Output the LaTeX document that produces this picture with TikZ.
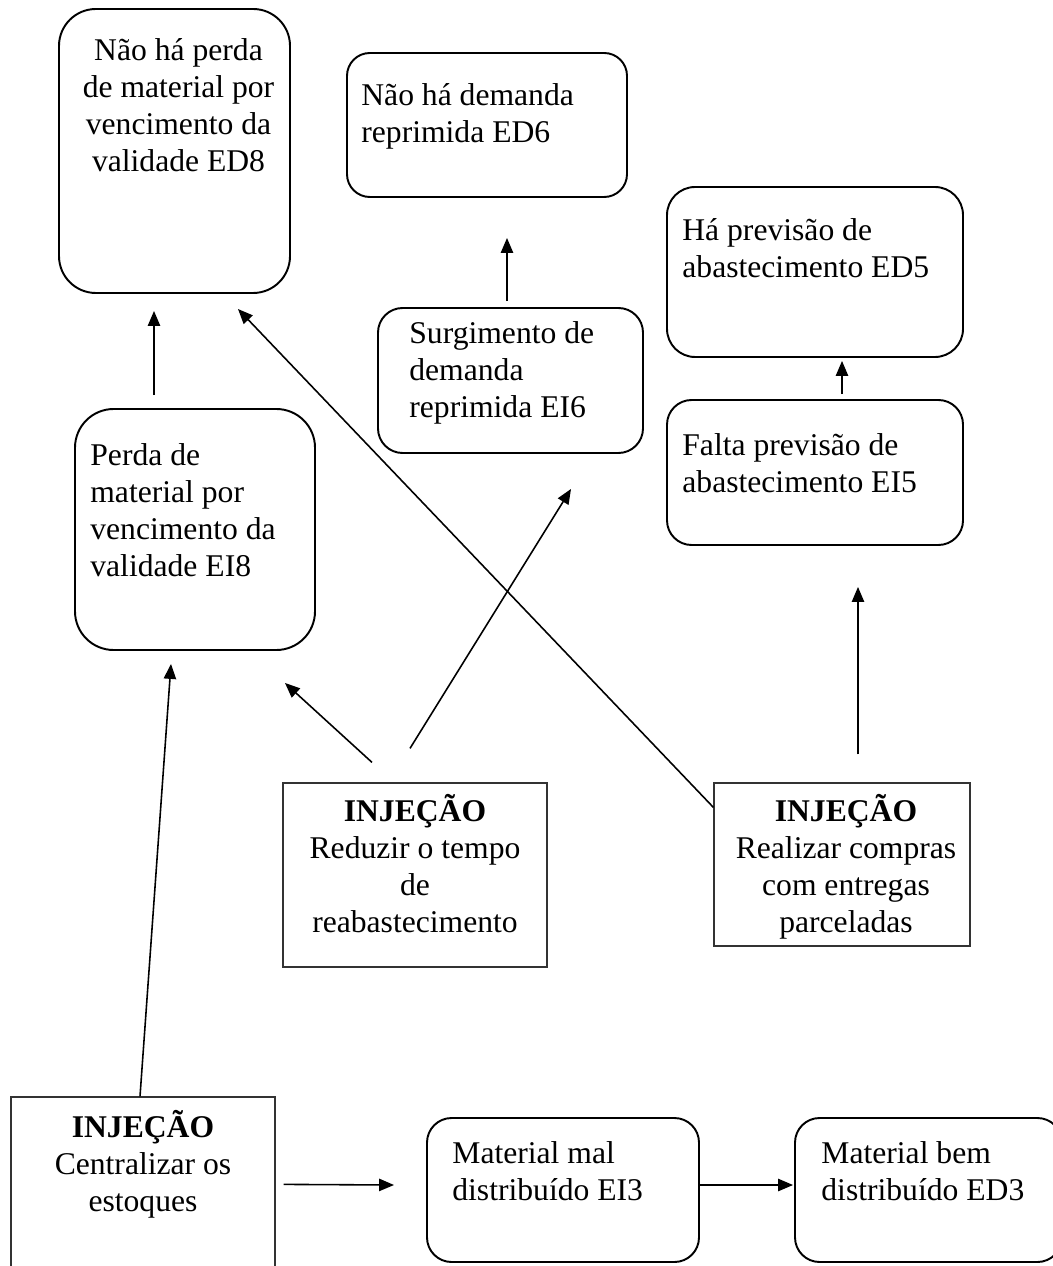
\documentclass[tikz,border=0pt]{standalone}
\usepackage{fontspec}
\setmainfont{Liberation Serif}
\usepackage{tikz}
\usetikzlibrary{arrows.meta,fit,positioning}
\tikzset{
  >={Triangle[length=8.5pt, width=7pt]},
  efbox/.style={draw=black, line width=1.1pt, inner sep=0pt, rounded corners=14pt},
  injbox/.style={draw=black!80, line width=0.7pt, inner sep=0pt},
  eftxt/.style={font=\fontsize{18}{21}\selectfont, align=left, inner sep=0pt, anchor=base west},
  injtxt/.style={font=\fontsize{18}{21}\selectfont, align=center, inner sep=0pt, anchor=base},
  seta/.style={->, line width=0.9pt},
}
\begin{document}
\begin{tikzpicture}[x=0.02cm, y=-0.02cm]
  \useasboundingbox (0,0) rectangle (1052,1266);

  % efeitos desejados (ED)
  \node[efbox, rounded corners=21pt, fit={(59,9) (290,293)}] (ED8) {};
  \node[efbox, rounded corners=13pt, fit={(347,53) (627,197)}] (ED6) {};
  \node[efbox, rounded corners=16pt, fit={(667,187) (963,357)}] (ED5) {};

  % efeitos indesejados (EI)
  \node[efbox, rounded corners=14pt, fit={(378,308) (643,453)}] (EI6) {};
  \node[efbox, rounded corners=14pt, fit={(667,400) (963,545)}] (EI5) {};
  \node[efbox, rounded corners=22pt, fit={(75,409) (315,650)}] (EI8) {};

  % injeções
  \node[injbox, fit={(283,783) (547,967)}] (INJa) {};
  \node[injbox, fit={(714,783) (970,946)}] (INJb) {};
  \node[injbox, fit={(11,1097) (275,1300)}] (INJc) {};

  % linha de baixo
  \node[efbox, rounded corners=14pt, fit={(427,1118) (699,1262)}] (EI3) {};
  \node[efbox, rounded corners=14pt, fit={(795,1118) (1062,1262)}] (ED3) {};

  % textos (ancorados na ultima linha)
  \node[injtxt] (ED8t) at ([shift={(4,163)}]ED8.north)
    {Não há perda\\de material por\\vencimento da\\validade ED8};
  \node[eftxt] (ED6t) at ([shift={(15,90)}]ED6.north west)
    {Não há demanda\\reprimida ED6};
  \node[eftxt] (ED5t) at ([shift={(16,91)}]ED5.north west)
    {Há previsão de\\abastecimento ED5};
  \node[eftxt] (EI6t) at ([shift={(32,110)}]EI6.north west)
    {Surgimento de\\demanda\\reprimida EI6};
  \node[eftxt] (EI5t) at ([shift={(16,93)}]EI5.north west)
    {Falta previsão de\\abastecimento EI5};
  \node[eftxt] (EI8t) at ([shift={(16,168)}]EI8.north west)
    {Perda de\\material por\\vencimento da\\validade EI8};
  \node[injtxt] (INJat) at ([shift={(0,150)}]INJa.north)
    {\textbf{INJEÇÃO}\\Reduzir o tempo\\de\\reabastecimento};
  \node[injtxt] (INJbt) at ([shift={(4,150)}]INJb.north)
    {\textbf{INJEÇÃO}\\Realizar compras\\com entregas\\parceladas};
  \node[injtxt] (INJct) at ([shift={(0,115)}]INJc.north)
    {\textbf{INJEÇÃO}\\Centralizar os\\estoques};
  \node[eftxt] (EI3t) at ([shift={(26,83)}]EI3.north west)
    {Material mal\\distribuído EI3};
  \node[eftxt] (ED3t) at ([shift={(27,83)}]ED3.north west)
    {Material bem\\distribuído ED3};

  % setas
  \draw[seta] ([shift={(-41,-13)}]EI8.north) -- ([shift={(-20.5,17)}]ED8.south);
  \draw[seta] ([shift={(0,25)}]INJb.north west) -- ([shift={(-53,15)}]ED8.south east);
  \draw[seta] ([shift={(-3.5,-6)}]EI6.north) -- ([shift={(20,40)}]ED6.south);
  \draw[seta] ([shift={(27,-5)}]EI5.north) -- ([shift={(27,3)}]ED5.south);
  \draw[seta] ([shift={(16,-28)}]INJb.north) -- ([shift={(43,41)}]EI5.south);
  \draw[seta] ([shift={(-43,-20)}]INJa.north) -- ([shift={(-31,32)}]EI8.south east);
  \draw[seta] ([shift={(-5,-34)}]INJa.north) -- ([shift={(60.5,35)}]EI6.south);
  \draw[seta] ([shift={(-3,0)}]INJc.north) -- ([shift={(-24,13)}]EI8.south);
  \draw[seta] ([shift={(8,88)}]INJc.north east) -- ([shift={(-32,-5)}]EI3.west);
  \draw[seta] ([shift={(0,-5)}]EI3.east) -- ([shift={(-1,-5)}]ED3.west);

\end{tikzpicture}
\end{document}
